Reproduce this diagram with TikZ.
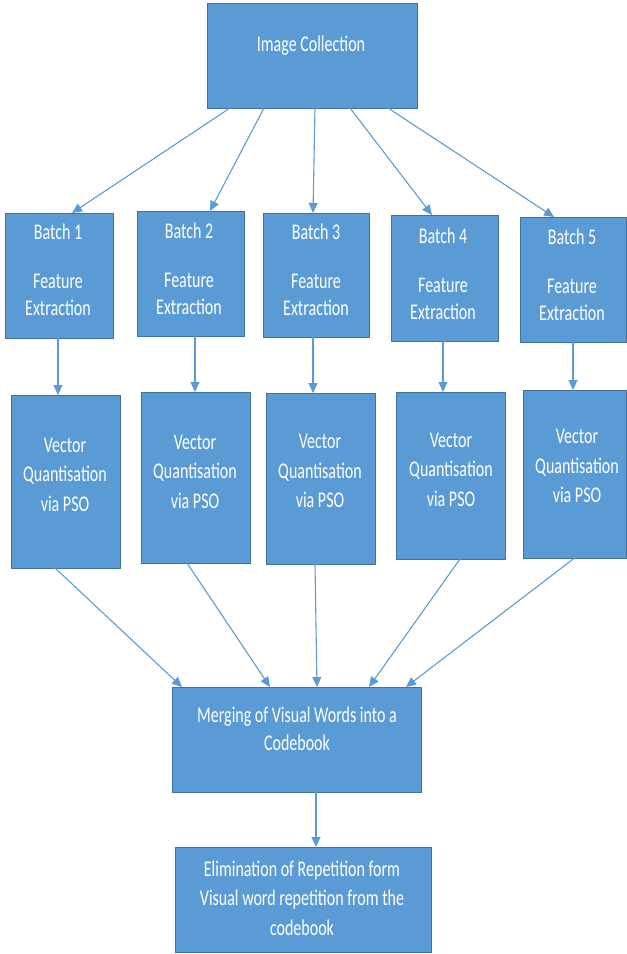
\documentclass[tikz,border=0pt]{standalone}
\usepackage{fontspec}
\setmainfont{Carlito}
\usepackage{graphicx}
\usetikzlibrary{arrows.meta}
\definecolor{boxfill}{HTML}{5B9BD5}
\definecolor{boxline}{HTML}{41719C}
\definecolor{arrowc}{HTML}{5B9BD5}
\newcommand{\vstr}[1]{\scalebox{1}[1.4]{#1}}
\begin{document}
\begin{tikzpicture}[x=1pt,y=-1pt,
  blk/.style={draw=boxline, fill=boxfill, line width=0.9pt, rectangle, inner sep=0pt, outer sep=0pt, anchor=north west},
  lbl/.style={text=white, align=center, inner sep=0pt},
  bfont/.style={font=\fontsize{16}{27}\selectfont},
  vfont/.style={font=\fontsize{16}{29.5}\selectfont},
  mfont/.style={font=\fontsize{16}{28}\selectfont},
  conn/.style={draw=arrowc, line width=1.1pt, -{Triangle[length=10pt,width=9pt]}}]
\useasboundingbox (0,0) rectangle (627,954);
% boxes
\node[blk, minimum width=210pt, minimum height=105pt] (ic) at (207,3) {};
\node[blk, minimum width=108pt, minimum height=125pt] (b1) at (5,213) {};
\node[blk, minimum width=107pt, minimum height=125pt] (b2) at (137,211) {};
\node[blk, minimum width=106pt, minimum height=124pt] (b3) at (263,213) {};
\node[blk, minimum width=107pt, minimum height=126pt] (b4) at (391,215) {};
\node[blk, minimum width=106pt, minimum height=125pt] (b5) at (520,217) {};
\node[blk, minimum width=109pt, minimum height=173pt] (v1) at (11,395) {};
\node[blk, minimum width=109pt, minimum height=171pt] (v2) at (141,392) {};
\node[blk, minimum width=109pt, minimum height=171pt] (v3) at (266,393) {};
\node[blk, minimum width=109pt, minimum height=167pt] (v4) at (396,392) {};
\node[blk, minimum width=103pt, minimum height=168pt] (v5) at (523,390) {};
\node[blk, minimum width=249pt, minimum height=105pt] (m) at (172,687) {};
\node[blk, minimum width=256pt, minimum height=105pt] (e) at (175,847) {};
% texts
\node[lbl, mfont] (tic) at (311,46) {\vstr{Image Collection}};
\node[lbl, bfont] (tb1) at (58,270) {\vstr{Batch 1}\\[22pt]\vstr{Feature}\\\vstr{Extraction}};
\node[lbl, bfont] (tb2) at (189,269) {\vstr{Batch 2}\\[22pt]\vstr{Feature}\\\vstr{Extraction}};
\node[lbl, bfont] (tb3) at (316,270) {\vstr{Batch 3}\\[22pt]\vstr{Feature}\\\vstr{Extraction}};
\node[lbl, bfont] (tb4) at (443,274) {\vstr{Batch 4}\\[22pt]\vstr{Feature}\\\vstr{Extraction}};
\node[lbl, bfont] (tb5) at (572,275) {\vstr{Batch 5}\\[22pt]\vstr{Feature}\\\vstr{Extraction}};
\node[lbl, vfont] (tv1) at (65,474.5) {\vstr{Vector}\\\vstr{Quantisation}\\\vstr{via PSO}};
\node[lbl, vfont] (tv2) at (195,471.5) {\vstr{Vector}\\\vstr{Quantisation}\\\vstr{via PSO}};
\node[lbl, vfont] (tv3) at (320,471) {\vstr{Vector}\\\vstr{Quantisation}\\\vstr{via PSO}};
\node[lbl, vfont] (tv4) at (451,469.5) {\vstr{Vector}\\\vstr{Quantisation}\\\vstr{via PSO}};
\node[lbl, vfont] (tv5) at (577,466) {\vstr{Vector}\\\vstr{Quantisation}\\\vstr{via PSO}};
\node[lbl, mfont] (tm) at (297,728.4) {\vstr{Merging of Visual Words into a}\\\vstr{Codebook}};
\node[lbl, vfont] (te) at (302,898) {\vstr{Elimination of Repetition form}\\\vstr{Visual word repetition from the}\\\vstr{codebook}};
% connectors: image collection -> batches
\draw[conn] ([xshift=-82pt]ic.south) -- ([xshift=13pt]b1.north);
\draw[conn] ([xshift=-48pt]ic.south) -- ([xshift=19.5pt]b2.north);
\draw[conn] ([xshift=3pt]ic.south) -- ([xshift=-3pt]b3.north);
\draw[conn] ([xshift=38pt]ic.south) -- ([xshift=-12.5pt]b4.north);
\draw[conn] ([xshift=76pt]ic.south) -- ([xshift=-19pt]b5.north);
% batches -> vector quantisation
\draw[conn] ([xshift=-1pt]b1.south) -- ([xshift=-1pt]b1.south |- v1.north);
\draw[conn] ([xshift=4.5pt]b2.south) -- ([xshift=4.5pt]b2.south |- v2.north);
\draw[conn] ([xshift=-3pt]b3.south) -- ([xshift=-3pt]b3.south |- v3.north);
\draw[conn] ([xshift=-1.5pt]b4.south) -- ([xshift=-1.5pt]b4.south |- v4.north);
\draw[conn] (b5.south) -- (b5.south |- v5.north);
% vector quantisation -> merging
\draw[conn] ([xshift=-10.5pt]v1.south) -- ([xshift=-114.5pt]m.north);
\draw[conn] ([xshift=-8.5pt]v2.south) -- ([xshift=-26.5pt]m.north);
\draw[conn] ([xshift=-5.5pt]v3.south) -- ([xshift=20.5pt]m.north);
\draw[conn] ([xshift=9.5pt]v4.south) -- ([xshift=72.5pt]m.north);
\draw[conn] (v5.south) -- ([xshift=109.5pt]m.north);
% merging -> elimination
\draw[conn] ([xshift=19.5pt]m.south) -- ([xshift=19.5pt]m.south |- e.north);
\end{tikzpicture}
\end{document}
